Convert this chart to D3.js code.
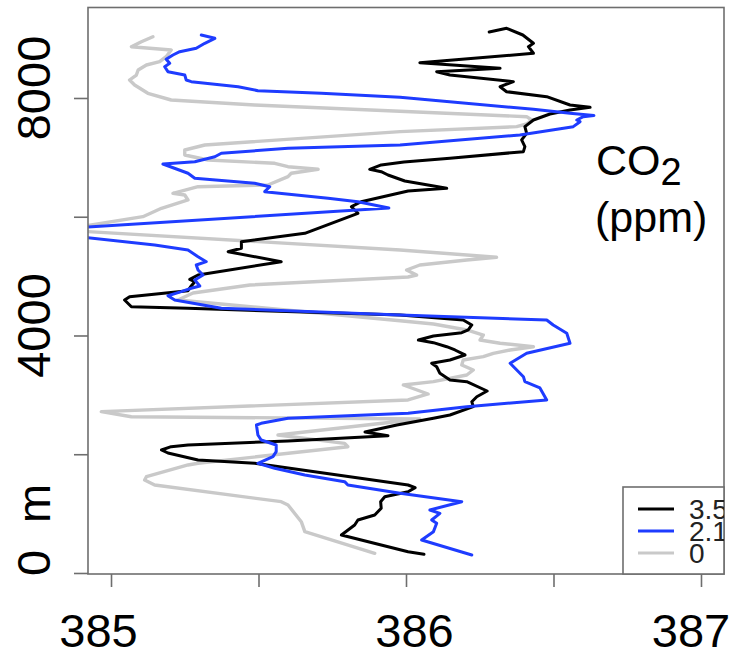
<!DOCTYPE html>
<html>
<head>
<meta charset="utf-8">
<script src="https://cdn.jsdelivr.net/npm/d3@7/dist/d3.min.js"></script>
<style>
  html, body { margin: 0; padding: 0; background: #fff; }
  svg { display: block; font-family: "Liberation Sans", Arial, Helvetica, sans-serif; }
</style>
</head>
<body>
<svg id="chart" width="732" height="657"></svg>
<script>
// Vertical CO2 profiles (ppm) against altitude (m) for three cases
const seriesNames = ["3.5", "2.1", "0"];

const co2_35 = [386.061, 386.007, 385.781, 385.826, 385.837, 385.894, 385.916, 385.914, 385.928, 386.007,
  386.031, 386.007, 385.487, 385.295, 385.193, 385.171, 385.204, 385.261, 385.600, 385.939,
  385.861, 385.969, 386.093, 386.149, 386.228, 386.223, 386.240, 386.275, 386.206, 386.149,
  386.115, 386.104, 386.087, 386.149, 386.200, 386.166, 386.138, 386.093, 386.042, 386.093,
  386.189, 386.211, 386.223, 386.194, 385.980, 385.261, 385.069, 385.046, 385.063, 385.261,
  385.272, 385.284, 385.267, 385.295, 385.577, 385.397, 385.442, 385.442, 385.657, 385.837,
  385.815, 385.848, 386.007, 386.138, 385.996, 385.939, 385.916, 385.877, 385.916, 385.993,
  386.149, 386.398, 386.403, 386.392, 386.409, 386.403, 386.432, 386.488, 386.556, 386.624,
  386.556, 386.477, 386.341, 386.319, 386.364, 386.149, 386.104, 386.319, 386.047, 386.432,
  386.415, 386.432, 386.396, 386.341, 386.282];
const alt_35 = [315, 359, 640, 808, 893, 977, 1090, 1201, 1285, 1369,
  1437, 1482, 1848, 1903, 2021, 2072, 2127, 2156, 2223, 2312,
  2375, 2493, 2605, 2661, 2801, 2885, 2969, 3065, 3222, 3251,
  3363, 3474, 3532, 3587, 3672, 3756, 3811, 3879, 3924, 3992,
  4047, 4093, 4177, 4261, 4345, 4458, 4485, 4598, 4653, 4754,
  4834, 4906, 4946, 5019, 5243, 5411, 5469, 5580, 5721, 6058,
  6169, 6253, 6434, 6479, 6602, 6703, 6759, 6799, 6872, 6922,
  6984, 7096, 7180, 7293, 7405, 7517, 7629, 7730, 7798, 7843,
  7882, 8022, 8106, 8190, 8275, 8387, 8443, 8500, 8594, 8753,
  8864, 8921, 9061, 9174, 9112];

const co2_21 = [386.223, 386.053, 386.093, 386.104, 386.087, 386.115, 386.081, 386.189, 385.980, 385.803,
  385.792, 385.657, 385.555, 385.498, 385.549, 385.560, 385.560, 385.509, 385.498, 385.493,
  385.509, 385.600, 386.007, 386.206, 386.477, 386.454, 386.403, 386.398, 386.353, 386.409,
  386.556, 386.545, 386.499, 386.477, 385.980, 385.374, 385.216, 385.193, 385.238, 385.272,
  385.301, 385.284, 385.312, 385.295, 385.289, 385.323, 385.295, 385.261, 385.148, 384.705,
  385.942, 385.837, 385.736, 385.521, 385.538, 385.487, 385.284, 385.261, 385.176, 385.284,
  385.352, 385.374, 385.600, 385.980, 386.386, 386.567, 386.590, 386.579, 386.601, 386.637,
  386.556, 386.432, 385.980, 385.713, 385.498, 385.431, 385.272, 385.255, 385.250, 385.193,
  385.182, 385.199, 385.187, 385.210, 385.233, 385.289, 385.318, 385.352, 385.306];
const alt_21 = [303, 556, 696, 837, 893, 1005, 1061, 1201, 1342, 1482,
  1538, 1651, 1763, 1848, 1959, 2043, 2156, 2240, 2324, 2493,
  2521, 2605, 2690, 2801, 2914, 3116, 3222, 3306, 3532, 3700,
  3869, 4037, 4177, 4261, 4345, 4458, 4598, 4670, 4738, 4795,
  4834, 4935, 5019, 5103, 5187, 5243, 5327, 5440, 5524, 5760,
  6147, 6253, 6311, 6422, 6506, 6563, 6648, 6732, 6888, 6927,
  7011, 7069, 7153, 7208, 7377, 7517, 7601, 7629, 7685, 7705,
  7742, 7810, 8012, 8079, 8123, 8190, 8275, 8303, 8387, 8443,
  8527, 8584, 8652, 8724, 8780, 8837, 8921, 9005, 9061];

const co2_0 = [385.894, 385.657, 385.645, 385.600, 385.577, 385.148, 385.114, 385.120, 385.261, 385.295,
  385.803, 385.792, 385.566, 386.047, 385.069, 384.967, 386.007, 386.075, 385.991, 386.093,
  386.206, 386.228, 386.189, 386.194, 386.262, 386.296, 386.353, 386.432, 386.319, 386.251,
  386.262, 386.206, 386.093, 385.980, 385.227, 385.278, 385.471, 386.007, 386.036, 386.002,
  386.047, 386.206, 386.307, 385.980, 384.827, 385.108, 385.171, 385.261, 385.250, 385.210,
  385.295, 385.532, 385.600, 385.611, 385.702, 385.600, 385.555, 385.329, 385.250, 385.250,
  385.318, 385.980, 386.375, 386.409, 386.426, 386.409, 385.487, 385.204, 385.125, 385.080,
  385.063, 385.086, 385.092, 385.120, 385.165, 385.187, 385.204, 385.069, 385.103, 385.142];
const alt_0 = [332, 696, 864, 1145, 1201, 1482, 1566, 1622, 1819, 1848,
  2127, 2184, 2324, 2594, 2632, 2717, 2914, 3015, 3166, 3222,
  3335, 3419, 3503, 3587, 3643, 3700, 3756, 3811, 3869, 3924,
  4008, 4093, 4194, 4249, 4598, 4716, 4850, 4985, 5019, 5103,
  5187, 5271, 5317, 5440, 5777, 6001, 6142, 6282, 6366, 6395,
  6506, 6535, 6675, 6732, 6799, 6843, 6900, 6956, 7040, 7124,
  7208, 7433, 7517, 7562, 7629, 7685, 7882, 7966, 8079, 8219,
  8303, 8387, 8471, 8556, 8611, 8696, 8808, 8864, 8948, 9032];

const xTickValues = [385, 385.5, 386, 386.5, 387];
const xTickLabels = ["385", "", "386", "", "387"];
const yTickValues = [0, 2000, 4000, 6000, 8000];
const yTickLabels = ["0", "", "4000", "", "8000"];

// ---- layout ----
const box = { left: 88, right: 724, top: 7.5, bottom: 574 };
const axisGrey = "#6e6e6e";
const colors = { "3.5": "#000000", "2.1": "#1e3cff", "0": "#c9c9c9" };
const xLabelShift = [-12.5, 0, 8.5, 0, -10];

const x = d3.scaleLinear().domain([384.922, 387.078]).range([box.left, box.right]);
const y = d3.scaleLinear().domain([-17, 9524]).range([box.bottom, box.top]);

const svg = d3.select("#chart");

svg.append("defs").append("clipPath").attr("id", "plotClip")
  .append("rect")
  .attr("x", box.left).attr("y", box.top)
  .attr("width", box.right - box.left).attr("height", box.bottom - box.top);

// profiles (light first, so darker lines sit on top)
const profiles = [
  { name: "0", co2: co2_0, alt: alt_0 },
  { name: "3.5", co2: co2_35, alt: alt_35 },
  { name: "2.1", co2: co2_21, alt: alt_21 }
];

const line = d3.line().x(d => x(d[0])).y(d => y(d[1]));

const gLines = svg.append("g").attr("clip-path", "url(#plotClip)");
profiles.forEach(p => {
  const pts = p.co2.map((c, i) => [c, p.alt[i]]);
  gLines.append("path")
    .datum(pts)
    .attr("d", line)
    .attr("fill", "none")
    .attr("stroke", colors[p.name])
    .attr("stroke-width", p.name === "0" ? 3.4 : 3)
    .attr("stroke-linejoin", "round")
    .attr("stroke-linecap", "round");
});

// frame
svg.append("rect")
  .attr("x", box.left).attr("y", box.top)
  .attr("width", box.right - box.left).attr("height", box.bottom - box.top)
  .attr("fill", "none").attr("stroke", axisGrey).attr("stroke-width", 1.6);

// x axis ticks
const xAxis = svg.append("g")
  .attr("transform", `translate(0,${box.bottom})`)
  .call(d3.axisBottom(x).tickValues(xTickValues).tickSize(13).tickFormat(""));
xAxis.select(".domain").remove();
xAxis.selectAll(".tick line").attr("stroke", axisGrey).attr("stroke-width", 1.6);

xTickValues.forEach((v, i) => {
  if (!xTickLabels[i]) return;
  svg.append("text")
    .attr("x", x(v) + xLabelShift[i]).attr("y", 647)
    .attr("text-anchor", "middle")
    .attr("font-size", 47)
    .attr("fill", "#000")
    .text(xTickLabels[i]);
});

// y axis ticks
const yAxis = svg.append("g")
  .attr("transform", `translate(${box.left},0)`)
  .call(d3.axisLeft(y).tickValues(yTickValues).tickSize(14).tickFormat(""));
yAxis.select(".domain").remove();
yAxis.selectAll(".tick line").attr("stroke", axisGrey).attr("stroke-width", 1.6);

yTickValues.forEach((v, i) => {
  if (!yTickLabels[i]) return;
  const cy = y(v) - 10;
  svg.append("text")
    .attr("transform", `translate(49.5,${cy}) rotate(-90)`)
    .attr("text-anchor", "middle")
    .attr("font-size", 47)
    .attr("fill", "#000")
    .text(yTickLabels[i]);
});

// altitude unit
svg.append("text")
  .attr("transform", `translate(49.5,503.5) rotate(-90)`)
  .attr("text-anchor", "middle")
  .attr("font-size", 47)
  .attr("fill", "#000")
  .text("m");

// quantity label
const co2Label = svg.append("text")
  .attr("x", 596).attr("y", 175)
  .attr("font-size", 43)
  .attr("fill", "#000");
co2Label.append("tspan").text("CO");
co2Label.append("tspan").attr("dy", 10).attr("font-size", 38).text("2");

svg.append("text")
  .attr("x", 595).attr("y", 232)
  .attr("font-size", 43)
  .attr("fill", "#000")
  .text("(ppm)");

// legend
const leg = { x: 623, y: 487, w: 101, h: 87 };
svg.append("clipPath").attr("id", "legClip")
  .append("rect").attr("x", leg.x).attr("y", leg.y).attr("width", leg.w).attr("height", leg.h);

svg.append("rect")
  .attr("x", leg.x).attr("y", leg.y).attr("width", leg.w).attr("height", leg.h)
  .attr("fill", "#fff").attr("stroke", axisGrey).attr("stroke-width", 1.6);

const gLeg = svg.append("g").attr("clip-path", "url(#legClip)");
seriesNames.forEach((name, i) => {
  const ry = 509 + i * 22;
  gLeg.append("line")
    .attr("x1", 638).attr("x2", 674).attr("y1", ry).attr("y2", ry)
    .attr("stroke", colors[name]).attr("stroke-width", 3);
  gLeg.append("text")
    .attr("x", 689).attr("y", ry + 9.5)
    .attr("font-size", 28)
    .attr("fill", "#222")
    .text(name);
});
</script>
</body>
</html>
